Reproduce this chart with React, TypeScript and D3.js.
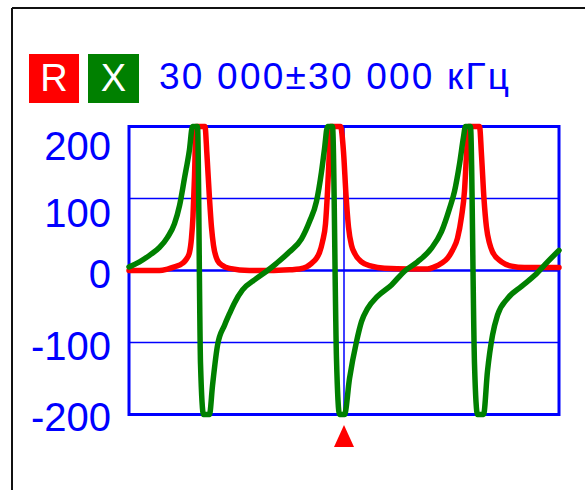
import React from 'react';
import * as d3 from 'd3';

// Resistance R (red), frequency in MHz, value in ohm
const rFreqMHz = [0, 1.47, 4.26, 5.37, 6.35, 7.47, 8.02, 8.44, 8.72, 8.93, 9.14, 9.35, 10.6, 10.88, 11.23, 11.51, 11.79, 12.35, 13.05, 14.02, 16.81, 19.6, 22.4, 23.79, 24.77, 25.47, 26.16, 26.58, 27.0, 27.42, 27.7, 27.98, 28.12, 29.51, 29.93, 30.28, 30.63, 31.05, 31.47, 32.44, 33.84, 35.65, 39.14, 41.65, 42.63, 43.6, 44.44, 45.14, 45.84, 46.4, 46.81, 47.09, 47.37, 48.91, 49.19, 49.53, 49.88, 50.3, 50.72, 51.98, 53.37, 55.19, 60];
const rOhm = [0, 0, 0, 2, 5, 10, 16, 25, 45, 75, 130, 200, 200, 160, 100, 60, 35, 14, 7, 3, 0, 0, 1, 2, 5, 10, 17, 25, 40, 65, 110, 170, 200, 200, 165, 105, 60, 35, 24, 12, 6, 3, 2, 2, 5, 10, 17, 28, 45, 75, 110, 160, 200, 200, 160, 100, 60, 38, 26, 12, 6, 4, 4];

// Reactance X (green), frequency in MHz, value in ohm
const xFreqMHz = [0, 1.47, 2.86, 4.26, 5.37, 6.35, 7.05, 7.74, 8.44, 8.86, 9.56, 9.98, 10.4, 11.23, 11.65, 12.35, 13.33, 14.02, 14.72, 15.84, 17.79, 19.19, 20.58, 22.4, 24.07, 25.19, 26.16, 26.86, 27.28, 27.7, 28.4, 28.95, 29.37, 30.07, 30.77, 31.74, 32.44, 33.28, 34.67, 36.63, 38.44, 40.26, 42.21, 43.6, 44.72, 45.42, 46.12, 46.67, 46.95, 47.65, 48.21, 48.63, 49.47, 50.02, 50.72, 51.42, 52.81, 54.77, 56.58, 58.4, 60];
const xOhm = [5, 12, 21, 32, 46, 65, 90, 128, 168, 200, 200, -130, -200, -200, -160, -104, -76, -60, -45, -27, -11, -1, 10, 26, 44, 68, 96, 137, 169, 200, 200, -122, -200, -200, -150, -99, -71, -53, -36, -20, -1, 12, 31, 54, 86, 110, 148, 185, 200, 200, -130, -200, -200, -140, -90, -62, -39, -22, -7, 12, 28];

const yTicks = [200, 100, 0, -100, -200];
const gridValues = [100, -100];
const seriesNames = ['R', 'X'];
const seriesColors = ['#ff0000', '#008000'];
const headerText = '30 000±30 000 кГц';
const markerFreqMHz = 30;

export default function App() {
  const W = 585;
  const H = 490;
  const left = 129, right = 559, top = 126.5, bottom = 414.5;
  const x = d3.scaleLinear().domain([0, 60]).range([left, right]);
  const y = d3.scaleLinear().domain([-200, 200]).range([bottom, top]);
  // label placement as on the instrument display
  const labelY = d3.scaleLinear().domain([200, 100, 0, -100, -200]).range([160, 227, 288, 360, 431]);

  const mk = (fs: number[], vs: number[]) =>
    d3.line<[number, number]>()
      .x(d => x(d[0]))
      .y(d => y(d[1]))
      .curve(d3.curveMonotoneX)(fs.map((f, i) => [f, vs[i]] as [number, number])) || '';

  const rPath = mk(rFreqMHz, rOhm);
  const xPath = mk(xFreqMHz, xOhm);
  const font = '"Liberation Sans", Arial, sans-serif';
  const blue = '#0000ff';
  const mx = x(markerFreqMHz);

  return (
    <svg width={W} height={H} style={{ position: 'absolute', left: 0, top: 0, background: '#fff' }}>
      <rect x={0} y={0} width={W} height={H} fill="#fff" />
      {/* frame */}
      <line x1={12} y1={8} x2={W} y2={8} stroke="#111" strokeWidth={2} />
      <line x1={12} y1={8} x2={12} y2={H} stroke="#111" strokeWidth={2} />

      {/* header legend */}
      {seriesNames.map((n, i) => {
        const bx = i === 0 ? 29 : 88;
        const bw = i === 0 ? 50 : 51;
        return (
          <g key={n}>
            <rect x={bx} y={54} width={bw} height={49} fill={seriesColors[i]} />
            <text x={bx + bw / 2} y={91} fill="#fff" fontFamily={font} fontSize={38} textAnchor="middle">{n}</text>
          </g>
        );
      })}
      <text x={159} y={89} fill={blue} fontFamily={font} fontSize={37} textLength={350} lengthAdjust="spacing">{headerText}</text>

      {/* y labels */}
      {yTicks.map(v => (
        <text key={v} x={111} y={labelY(v)} fill={blue} fontFamily={font} fontSize={40} textAnchor="end">{v}</text>
      ))}

      {/* grid */}
      {gridValues.map(v => (
        <line key={v} x1={left} x2={right} y1={y(v)} y2={y(v)} stroke={blue} strokeWidth={1.5} />
      ))}
      <line x1={left} x2={right} y1={y(0)} y2={y(0)} stroke={blue} strokeWidth={2.5} />
      <line x1={mx} x2={mx} y1={top} y2={bottom} stroke={blue} strokeWidth={1.5} />
      <rect x={left} y={top} width={right - left} height={bottom - top} fill="none" stroke={blue} strokeWidth={3} />

      {/* curves */}
      <path d={rPath} fill="none" stroke={seriesColors[0]} strokeWidth={5.5} strokeLinejoin="round" strokeLinecap="round" />
      <path d={xPath} fill="none" stroke={seriesColors[1]} strokeWidth={5.5} strokeLinejoin="round" strokeLinecap="round" />

      {/* marker */}
      <path d={`M${mx},425 L${mx + 10},447 L${mx - 10},447 Z`} fill="#ff0000" />
    </svg>
  );
}
